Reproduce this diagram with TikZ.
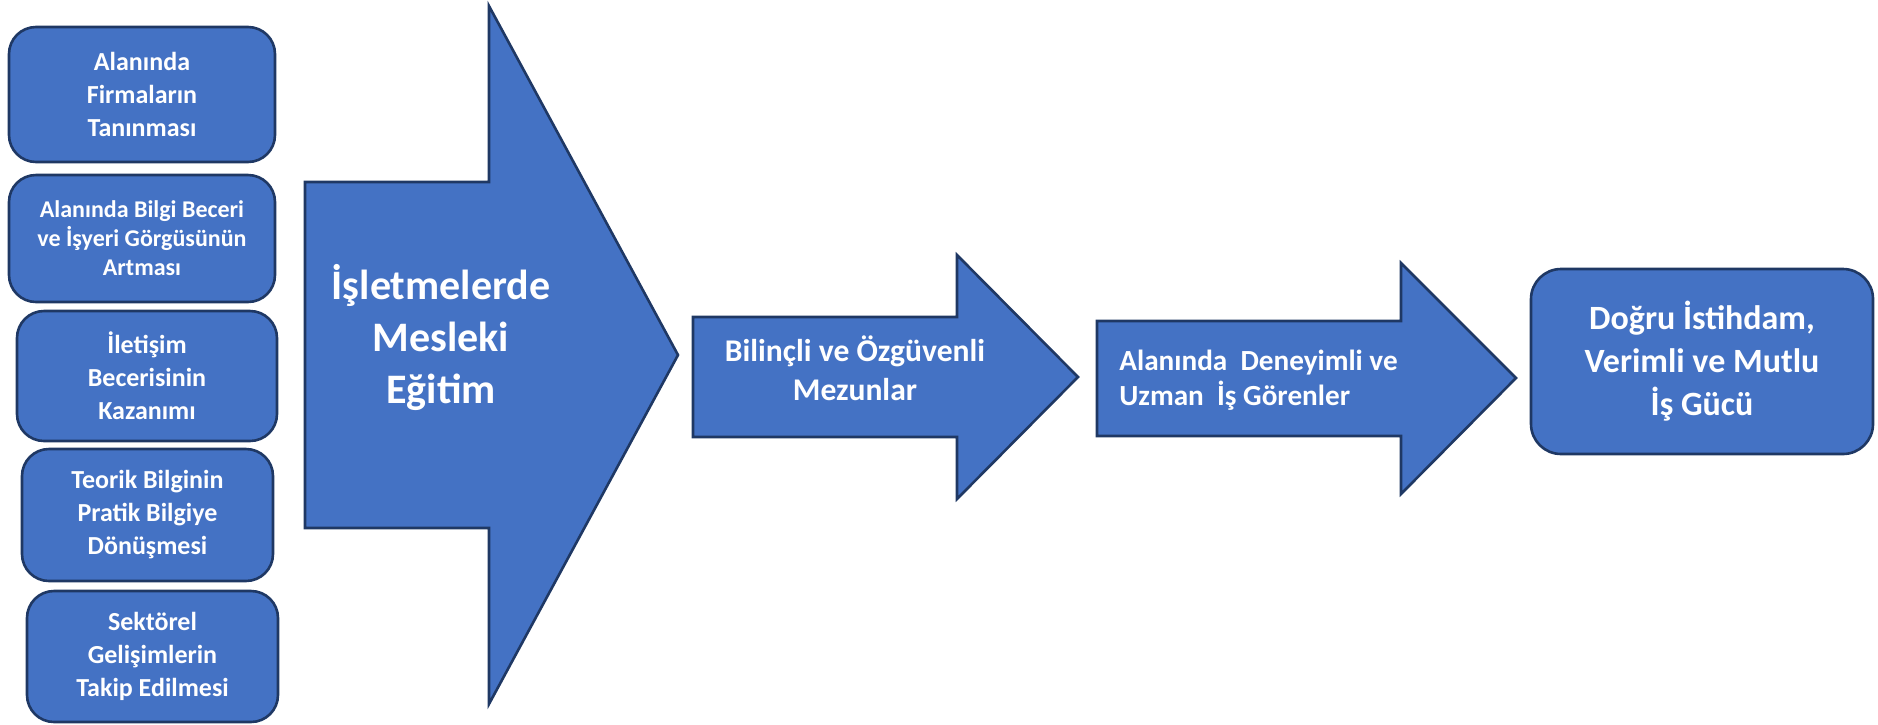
\documentclass[tikz,border=0pt]{standalone}
\usepackage{fontspec}
\setmainfont{Carlito}
\usetikzlibrary{positioning}

\definecolor{fillblue}{HTML}{4472C4}
\definecolor{edgeblue}{HTML}{1F3864}

\begin{document}
\begin{tikzpicture}[x=0.5pt,y=-0.5pt]
    \tikzset{
      shape box/.style={draw=edgeblue, fill=fillblue, line width=1.3pt},
      sidebox/.style={shape box, rounded corners=13.5pt, inner sep=0pt,
        align=center, text=white,
        font=\fontsize{13pt}{16.5pt}\selectfont\bfseries},
      arrow text/.style={text=white, align=center, inner sep=0pt},
    }
    \useasboundingbox (0,0) rectangle (1878,724);

    % boxes on the left
    \node[sidebox, minimum width=133pt, minimum height=67.5pt] (firms) at (142,94.5)
      {Alanında\\Firmaların\\Tanınması};
    \node[sidebox, minimum width=133pt, minimum height=63.5pt,
      font=\fontsize{12pt}{14.5pt}\selectfont\bfseries] (skills) at (142,238.5)
      {Alanında Bilgi Beceri\\ve İşyeri Görgüsünün\\Artması};
    \node[sidebox, minimum width=130pt, minimum height=65pt] (talk) at (147,376)
      {İletişim\\Becerisinin\\Kazanımı};
    \node[sidebox, minimum width=125.5pt, minimum height=66pt] (theory) at (147.5,515)
      {Teorik Bilginin\\Pratik Bilgiye\\Dönüşmesi};
    \node[sidebox, minimum width=125.5pt, minimum height=65.5pt] (sector) at (152.5,656.5)
      {Sektörel\\Gelişimlerin\\Takip Edilmesi};

    % arrows
    \draw[shape box] (305,182) -- (489,182) -- (489,6) -- (678,355)
      -- (489,704) -- (489,528) -- (305,528) -- cycle;
    \draw[shape box] (693,317) -- (957,317) -- (957,255) -- (1078,377)
      -- (957,499) -- (957,437) -- (693,437) -- cycle;
    \draw[shape box] (1097,321) -- (1401,321) -- (1401,263) -- (1516,378)
      -- (1401,494) -- (1401,436) -- (1097,436) -- cycle;

    \node[arrow text, font=\fontsize{21pt}{26pt}\selectfont\bfseries] (training) at (441,337)
      {İşletmelerde\\Mesleki\\Eğitim};
    \node[arrow text, font=\fontsize{15.8pt}{19.5pt}\selectfont\bfseries] (grads) at (855,368)
      {Bilinçli ve Özgüvenli\\Mezunlar};
    \node[arrow text, align=left, anchor=west,
      font=\fontsize{14.6pt}{17.5pt}\selectfont\bfseries] (workers) at (1119,380)
      {Alanında\ \ Deneyimli ve\\Uzman\ \ İş Görenler};

    % result
    \node[sidebox, rounded corners=15pt, minimum width=171pt, minimum height=92.5pt,
      font=\fontsize{17pt}{21.5pt}\selectfont\bfseries] (result) at (1702,361.5)
      {Doğru İstihdam,\\Verimli ve Mutlu\\İş Gücü};
  \end{tikzpicture}
\end{document}
